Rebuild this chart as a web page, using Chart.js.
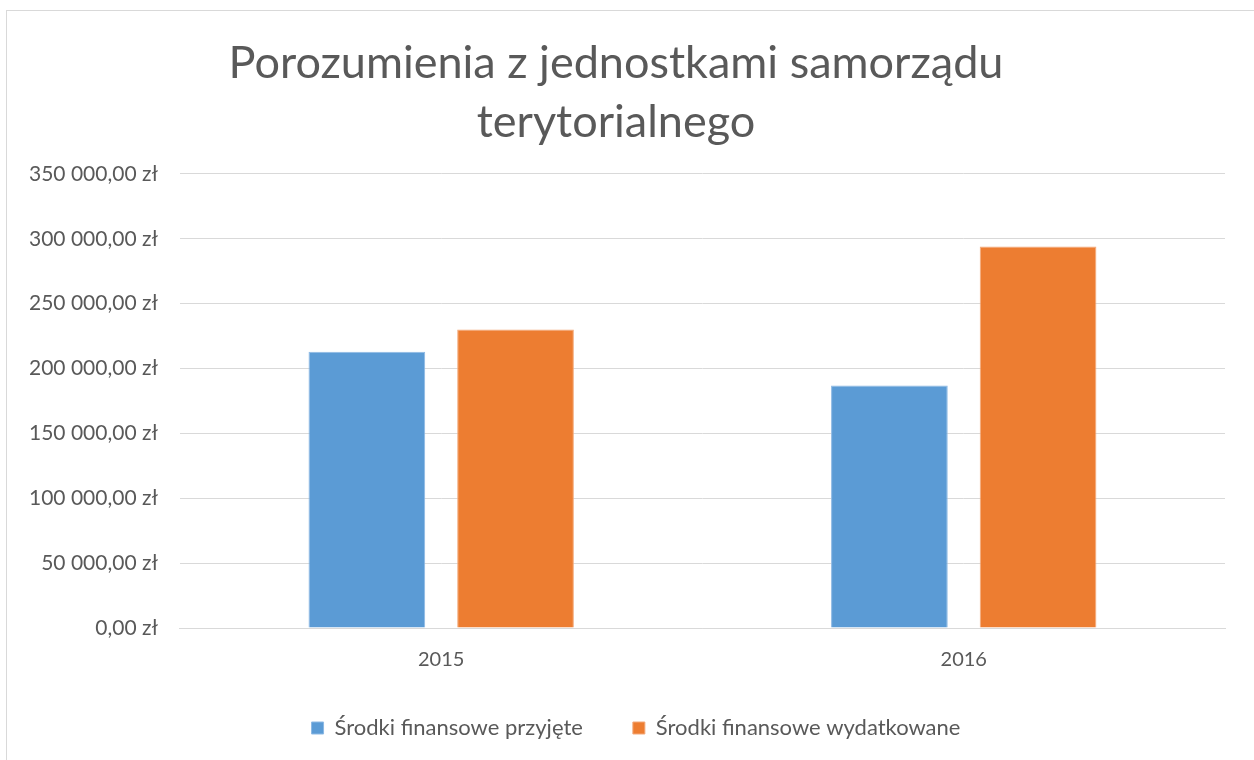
<!DOCTYPE html>
<html>
<head>
<meta charset="utf-8">
<script src="https://cdn.jsdelivr.net/npm/chart.js@4/dist/chart.umd.min.js"></script>
<style>
    body { margin: 0; background: #fff; }
    #frame {
        position: absolute;
        left: 6px;
        top: 10px;
        width: 1260px;
        height: 760px;
        border: 1px solid #d9d9d9;
        box-sizing: border-box;
    }
    #wrap { position: absolute; left: 0; top: 0; width: 1248px; height: 750px; }
</style>
</head>
<body>
<div id="frame"><div id="wrap"><canvas id="chart"></canvas></div></div>
<script>
// Chart data
const years = ['2015', '2016'];
const received = [213000, 187000];
const spent = [230000, 294000];
const yTicks = [0, 50000, 100000, 150000, 200000, 250000, 300000, 350000];

const textColor = '#595959';
const fontFamily = 'Lato, "Open Sans", sans-serif';

// "350 000,00 zł" style label
function formatPln(value) {
    const whole = Math.round(value).toString().replace(/\B(?=(\d{3})+(?!\d))/g, ' ');
    return whole + ',00 zł';
}

// legend padding is big for the item spacing; take some height back
// so the plot can go lower, then grow the box up again for drawing
const legendShrink = {
    id: 'legendShrink',
    beforeInit(chart) {
        const origFit = chart.legend.fit;
        chart.legend.fit = function() {
            origFit.bind(chart.legend)();
            this.height -= 25;
        };
    },
    afterLayout(chart) {
        const lg = chart.legend;
        lg.top -= 25;
        lg.height += 25;
        // nudge items right to sit under the plot like the original
        lg.left += 20;
        lg.right += 20;
    }
};

document.addEventListener('DOMContentLoaded', function() {
    const ctx = document.getElementById('chart').getContext('2d');
    new Chart(ctx, {
        type: 'bar',
        data: {
            labels: years,
            datasets: [{
                label: 'Środki finansowe przyjęte',
                data: received,
                backgroundColor: '#5B9BD5',
                borderColor: '#8db9e4',
                borderWidth: 1,
                barPercentage: 0.785,
                categoryPercentage: 0.569
            }, {
                label: 'Środki finansowe wydatkowane',
                data: spent,
                backgroundColor: '#ED7D31',
                borderColor: '#f3a97a',
                borderWidth: 1,
                barPercentage: 0.785,
                categoryPercentage: 0.569
            }]
        },
        options: {
            responsive: true,
            maintainAspectRatio: false,
            animation: false,
            layout: {
                padding: { left: 0, right: 30, top: 23, bottom: 12 }
            },
            plugins: {
                title: {
                    display: true,
                    text: ['Porozumienia z jednostkami samorządu', 'terytorialnego'],
                    color: textColor,
                    font: { family: fontFamily, size: 45, weight: 'normal', lineHeight: 1.31 },
                    padding: { top: 0, bottom: 22 }
                },
                legend: {
                    position: 'bottom',
                    labels: {
                        color: textColor,
                        boxWidth: 12,
                        boxHeight: 12,
                        padding: 50,
                        font: { family: fontFamily, size: 22 }
                    }
                },
                tooltip: { enabled: false }
            },
            scales: {
                x: {
                    grid: { display: false, drawTicks: false },
                    border: { color: '#d9d9d9' },
                    ticks: {
                        color: textColor,
                        padding: 20,
                        font: { family: fontFamily, size: 20 }
                    }
                },
                y: {
                    min: 0,
                    max: 350000,
                    afterBuildTicks: function(axis) {
                        axis.ticks = yTicks.map(v => ({ value: v }));
                    },
                    grid: { color: '#d9d9d9', drawTicks: false },
                    border: { display: false },
                    ticks: {
                        color: textColor,
                        padding: 22,
                        font: { family: fontFamily, size: 21 },
                        callback: function(value) {
                            return formatPln(value);
                        }
                    }
                }
            }
        },
        plugins: [legendShrink]
    });
});
</script>
</body>
</html>
